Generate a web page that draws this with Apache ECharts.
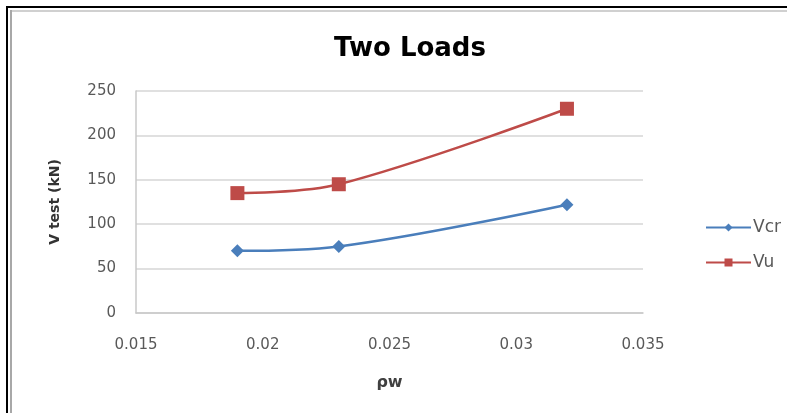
<!DOCTYPE html>
<html>
<head>
<meta charset="utf-8">
<script src="https://cdn.jsdelivr.net/npm/echarts@6/dist/echarts.min.js"></script>
<style>
html,body{margin:0;padding:0;background:#fff;}
#c{width:787px;height:413px;}
</style>
</head>
<body>
<div id="c"></div>
<script>
const rhoW = [0.019, 0.023, 0.032];
const vcr = [70, 75, 122];
const vu = [135, 145, 230];
const xTicks = ['0.015', '0.02', '0.025', '0.03', '0.035'];
const yTicks = [0, 50, 100, 150, 200, 250];

const chart = echarts.init(document.getElementById('c'));
const font = 'DejaVu Sans';
chart.setOption({
  animation: false,
  backgroundColor: '#fff',
  title: {
    text: 'Two Loads',
    left: 405, top: 31, textAlign: 'center',
    textStyle: {fontFamily: font, fontSize: 26, fontWeight: 'bold', color: '#000'}
  },
  legend: {
    orient: 'vertical', left: 700, top: 214, itemGap: 18,
    itemWidth: 45, itemHeight: 10,
    textStyle: {fontFamily: font, fontSize: 17, color: '#595959', padding: [0,0,0,-3]},
    data: ['Vcr', 'Vu']
  },
  grid: {left: 136, right: 144, top: 91, bottom: 100, containLabel: false},
  xAxis: {
    type: 'value', min: 0.015, max: 0.035, interval: 0.005,
    name: 'ρw', nameLocation: 'middle', nameGap: 62,
    nameTextStyle: {fontFamily: font, fontSize: 16, fontWeight: 'bold', color: '#404040'},
    axisLine: {show: true, lineStyle: {color: '#c8c8c8', width: 1.5}},
    axisTick: {show: false},
    splitLine: {show: false},
    axisLabel: {
      margin: 25, fontFamily: font, fontSize: 15, color: '#595959',
      formatter: v => { const i = Math.round((v - 0.015) / 0.005); return xTicks[i] !== undefined ? xTicks[i] : ''; }
    }
  },
  yAxis: {
    type: 'value', min: 0, max: 250, interval: 50,
    name: 'V test (kN)', nameLocation: 'middle', nameGap: 74, nameRotate: 90,
    nameTextStyle: {fontFamily: font, fontSize: 14, fontWeight: 'bold', color: '#333'},
    axisLine: {show: true, lineStyle: {color: '#c8c8c8', width: 1.5}},
    axisTick: {show: false},
    splitLine: {show: true, lineStyle: {color: '#d6d6d6', width: 1.5}},
    axisLabel: {
      margin: 20, fontFamily: font, fontSize: 15, color: '#595959',
      formatter: v => yTicks.includes(v) ? String(v) : ''
    }
  },
  series: [
    {
      name: 'Vcr', type: 'line', smooth: 0.35,
      data: rhoW.map((x, i) => [x, vcr[i]]),
      symbol: 'diamond', symbolSize: 13,
      itemStyle: {color: '#4a7ebb'},
      lineStyle: {color: '#4a7ebb', width: 2.5}
    },
    {
      name: 'Vu', type: 'line', smooth: 0.35,
      data: rhoW.map((x, i) => [x, vu[i]]),
      symbol: 'rect', symbolSize: 14,
      itemStyle: {color: '#be4b48'},
      lineStyle: {color: '#be4b48', width: 2.5}
    }
  ],
  graphic: [
    {type: 'rect', shape: {x: 6, y: 6, width: 790, height: 2}, style: {fill: '#000'}},
    {type: 'rect', shape: {x: 6, y: 6, width: 2, height: 420}, style: {fill: '#000'}},
    {type: 'rect', shape: {x: 10, y: 10, width: 790, height: 2}, style: {fill: '#d0d0d0'}},
    {type: 'rect', shape: {x: 10, y: 10, width: 2, height: 420}, style: {fill: '#a8a8a8'}}
  ]
});
</script>
</body>
</html>
